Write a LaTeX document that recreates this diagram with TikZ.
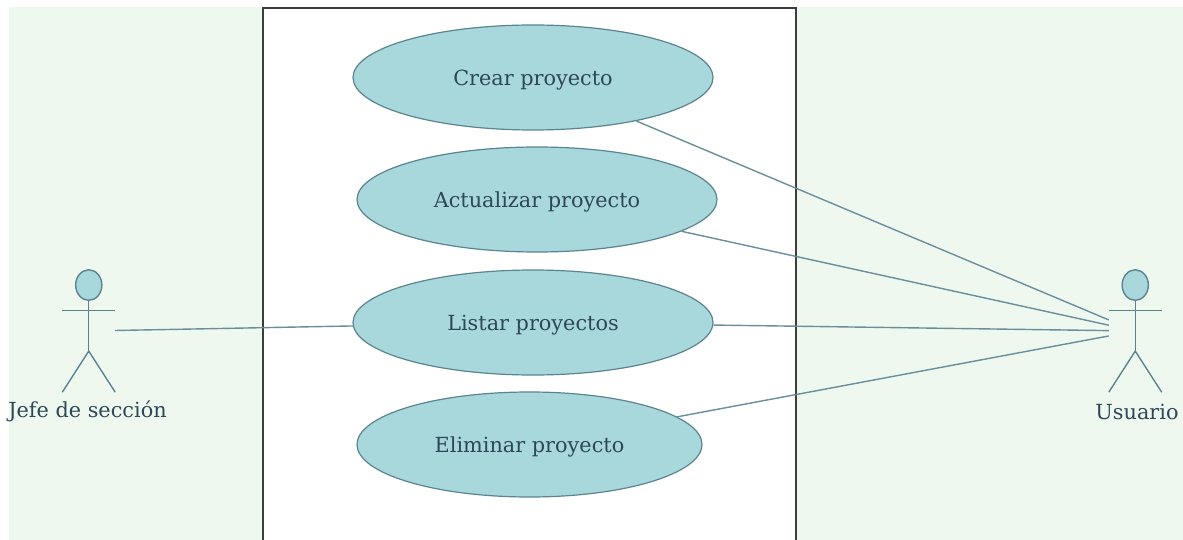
\documentclass[tikz,border=0pt]{standalone}
\usepackage{fontspec}
\setmainfont{DejaVu Serif}
\usetikzlibrary{shapes.geometric,calc}

\definecolor{bggreen}{HTML}{EFF8EE}
\definecolor{ucfill}{HTML}{A8D8DC}
\definecolor{ucstroke}{HTML}{5A8490}
\definecolor{uctext}{HTML}{2C4858}
\definecolor{assocline}{HTML}{6A8E9C}
\definecolor{framecol}{HTML}{3C3C3C}

\tikzset{
  usecase/.style={ellipse, draw=ucstroke, line width=1.2pt, fill=ucfill,
    minimum width=360pt, minimum height=105pt, inner sep=0pt, text depth=0pt,
    text=uctext, font=\fontsize{20.8}{25}\selectfont},
  actorbox/.style={rectangle, minimum width=52.5pt, minimum height=122pt, inner sep=0pt},
  actorline/.style={draw=ucstroke, line width=1.4pt},
  actorlabel/.style={text=uctext, font=\fontsize{20.8}{25}\selectfont, inner sep=0pt},
  assoc/.style={draw=assocline, line width=1.4pt},
  frameline/.style={draw=framecol, line width=2pt},
}

% stick figure drawn inside an actor's bounding node
\newcommand\stickactor[1]{%
  \draw[actorline, fill=ucfill] ($(#1.north)+(0,15.25)$) ellipse [x radius=13.1, y radius=15.25];
  \draw[actorline] ($(#1.north west)+(0,40.7)$) -- ($(#1.north east)+(0,40.7)$);
  \draw[actorline] ($(#1.north)+(0,30.5)$) -- ($(#1.north)+(0,81.3)$);
  \draw[actorline] (#1.south west) -- ($(#1.north)+(0,81.3)$) -- (#1.south east);
}

\begin{document}
\begin{tikzpicture}[x=1pt, y=-1pt]
  \useasboundingbox (0,0) rectangle (1183,540);
  \fill[white] (0,0) rectangle (1183,540);
  \fill[bggreen] (9,7) rectangle (1183,540);

  % system boundary
  \fill[white] (263,8) rectangle (796,545);
  \draw[frameline] (263,545) -- (263,8) -- (796,8) -- (796,545);

  % use cases
  \node[usecase] (crear) at (533,77.5) {Crear proyecto};
  \node[usecase] (actualizar) at (537,199.5) {Actualizar proyecto};
  \node[usecase] (listar) at (533,322.5) {Listar proyectos};
  \node[usecase, minimum width=345pt] (eliminar) at (529.5,444.5) {Eliminar proyecto};

  % actors
  \node[actorbox] (jefe) at (88.75,331) {};
  \node[actorbox] (usuario) at (1135.25,331) {};
  \stickactor{jefe}
  \stickactor{usuario}
  \node[actorlabel] (jefelabel) at (87.5,411.5) {Jefe de sección};
  \node[actorlabel] (usuariolabel) at (1137,411.5) {Usuario};

  % associations
  \draw[assoc] (listar) -- (jefe);
  \draw[assoc] (crear) -- (usuario);
  \draw[assoc] (actualizar) -- (usuario);
  \draw[assoc] (listar) -- (usuario);
  \draw[assoc] (eliminar) -- (usuario);
\end{tikzpicture}
\end{document}
